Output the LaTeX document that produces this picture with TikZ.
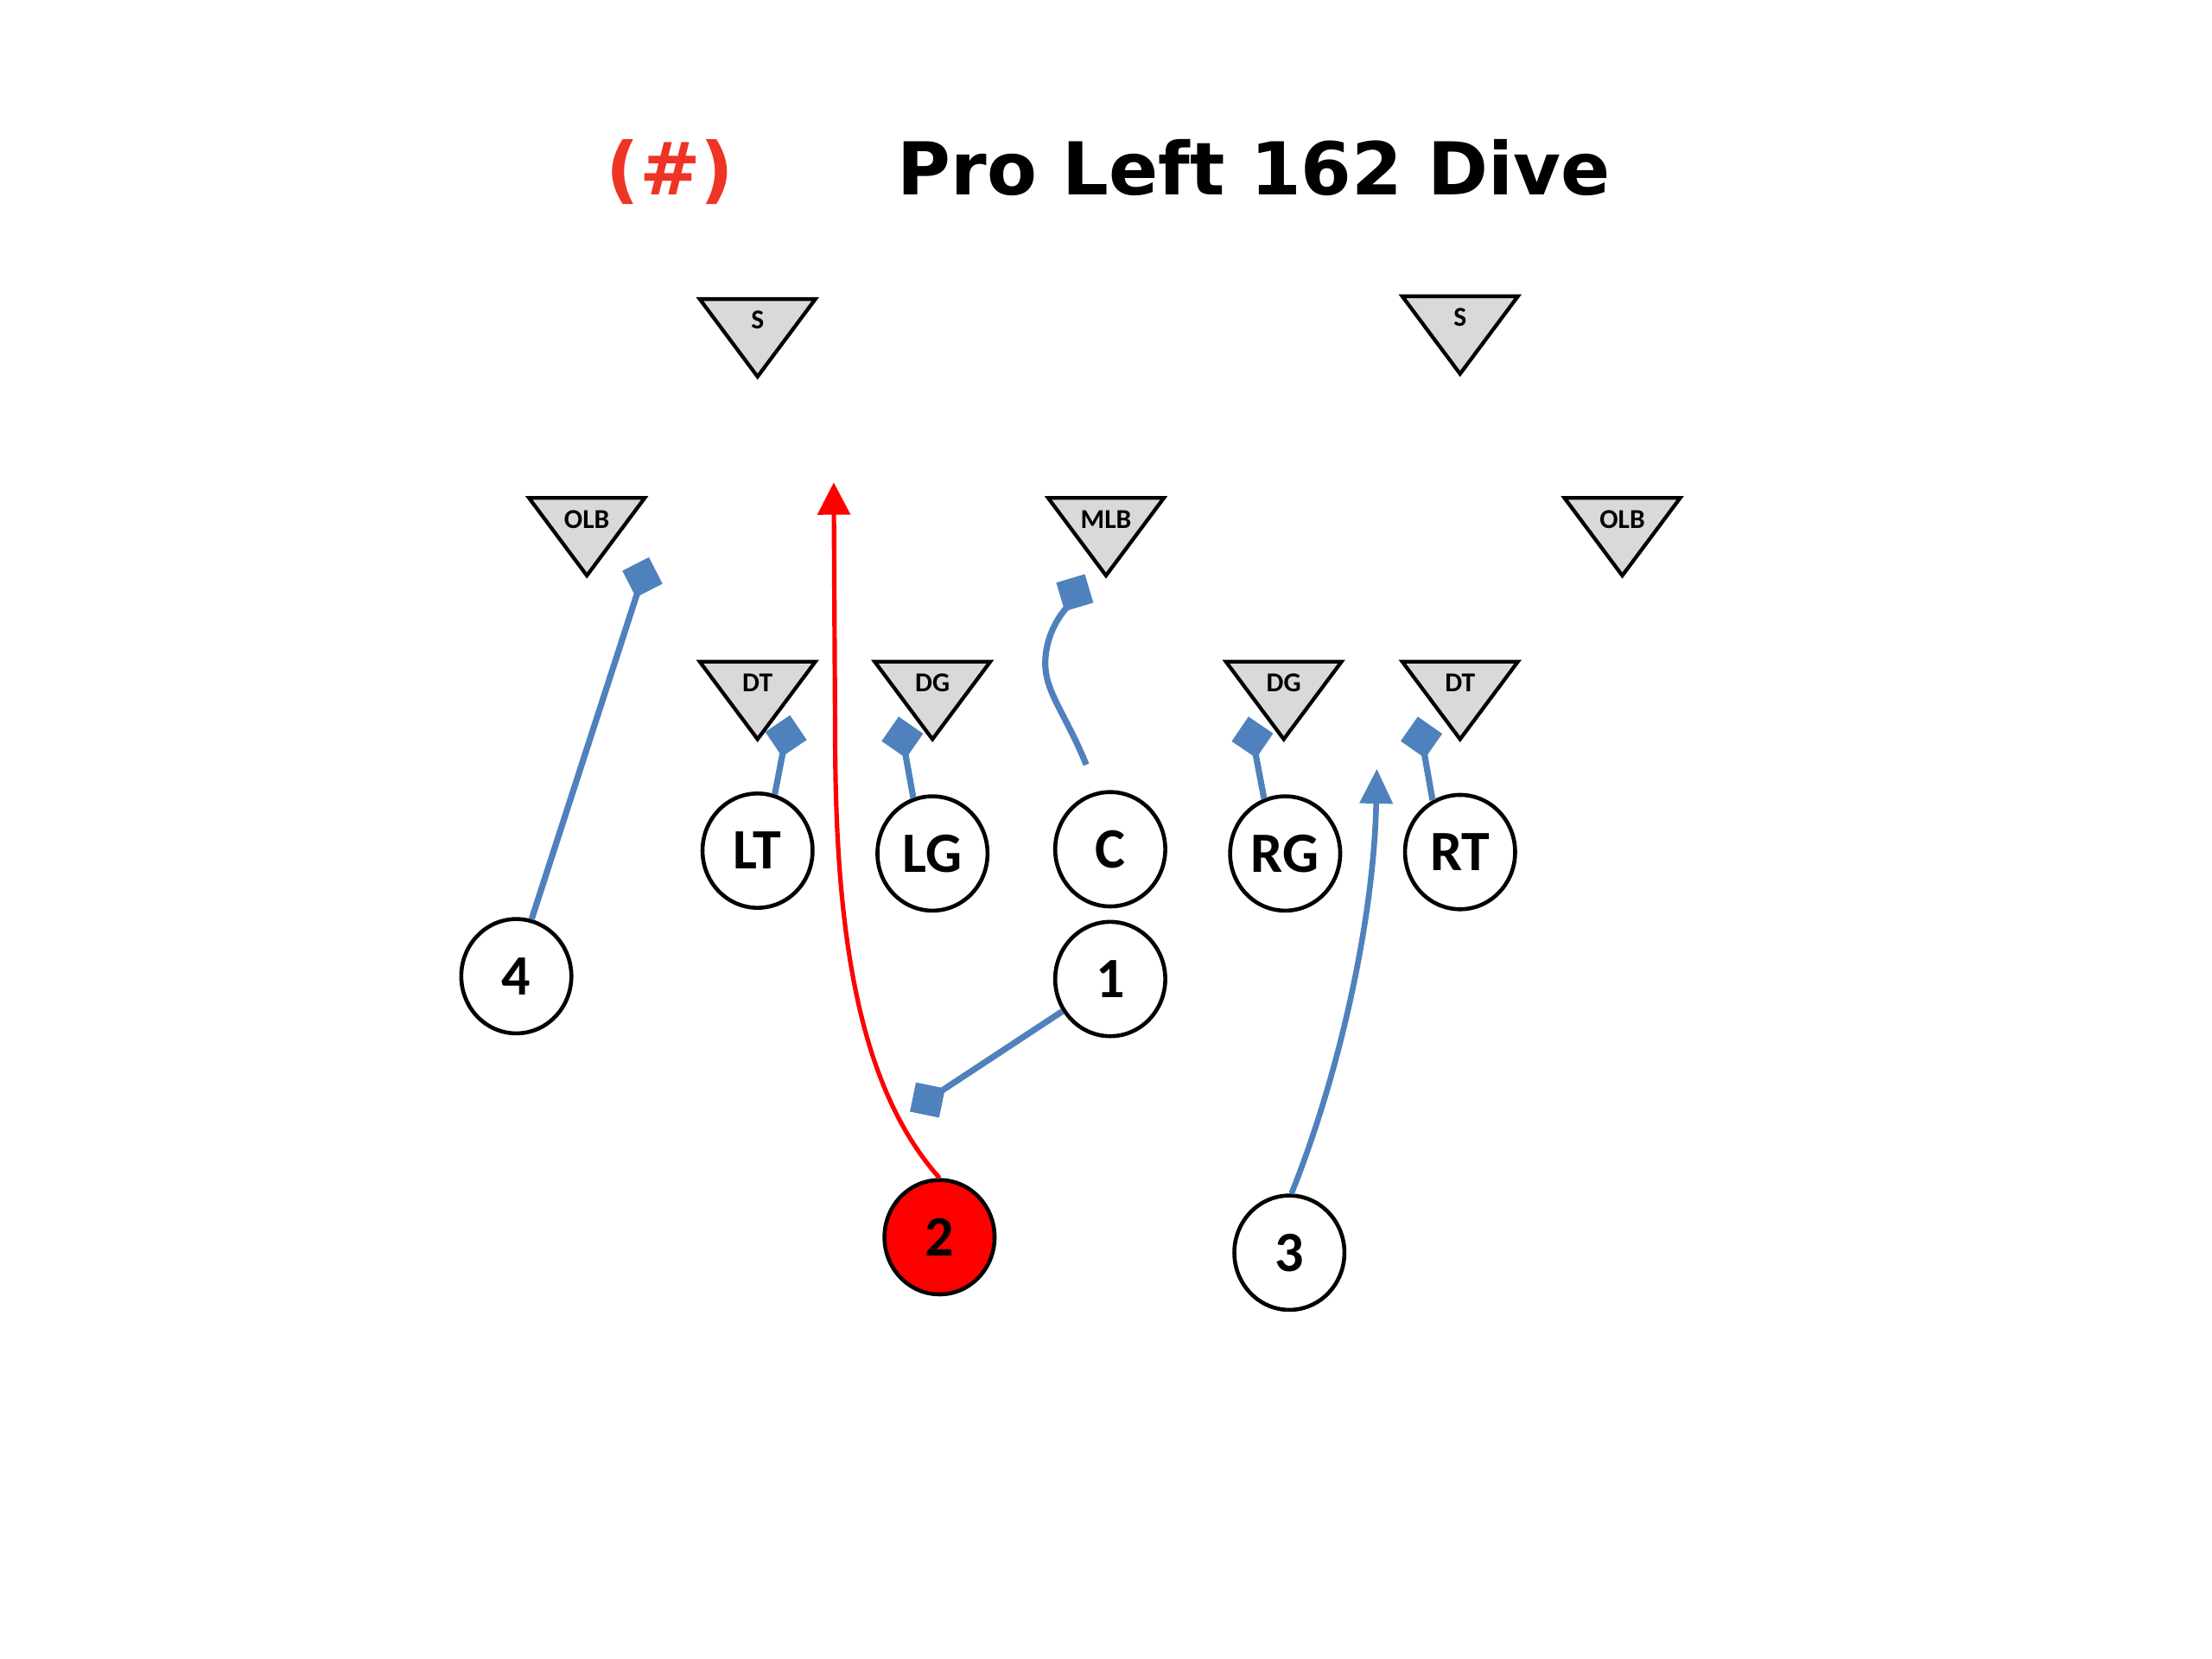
\documentclass[tikz,border=0pt]{standalone}
\usepackage{fontspec}
\setmainfont{Carlito}
\newfontfamily\titlefont{DejaVu Sans}
\usetikzlibrary{arrows.meta,shapes.geometric}
\definecolor{blockblue}{RGB}{79,129,189}
\definecolor{defgray}{RGB}{217,217,217}
\definecolor{hashred}{RGB}{238,52,36}
\tikzset{
  player/.style={draw, ellipse, line width=0.8pt, fill=white, inner sep=0pt,
                 minimum width=0.78cm, minimum height=0.81cm,
                 font=\fontsize{11.5}{12}\selectfont\bfseries},
  deflabel/.style={inner sep=0pt, font=\fontsize{5.5}{6}\selectfont\bfseries},
  defshape/.style={draw, line width=0.75pt, fill=defgray, line join=miter},
  headline/.style={anchor=base, font=\titlefont\bfseries\fontsize{14.7}{16}\selectfont},
  block/.style={-{Diamond[length=8.5pt,width=8.5pt]}, blockblue, line width=1.25pt},
  route/.style={-{Triangle[length=7pt,width=6.5pt]}, blockblue, line width=1.15pt},
  carry/.style={-{Triangle[length=6.5pt,width=6.5pt]}, red, line width=0.9pt}
}

\begin{document}
\begin{tikzpicture}[x=0.01cm, y=-0.01cm]
  \useasboundingbox (0,0) rectangle (1568,1176);

  % title
  \node[headline, text=hashred] (playno) at (475,138) {(\#)};
  \node[headline] (playname) at (889,138) {Pro Left 162 Dive};

  % defense
  \foreach \nm/\x/\y/\lab in {sl/537/212/S, sr/1035/210/S,
      olbl/416/353/OLB, mlb/784/353/MLB, olbr/1150/353/OLB,
      dtl/537/469/DT, dgl/661/469/DG, dgr/910/469/DG, dtr/1035/469/DT}{
    \draw[defshape] (\x-41,\y) -- (\x+41,\y) -- (\x,\y+55) -- cycle;
    \node[deflabel] (\nm) at (\x,\y+15) {\lab};
  }

  % offense
  \node[player] (lt) at (537,603) {LT};
  \node[player] (lg) at (661,605) {LG};
  \node[player] (c)  at (787,602) {C};
  \node[player] (rg) at (911,605) {RG};
  \node[player] (rt) at (1035,604) {RT};
  \node[player] (p4) at (366,692) {4};
  \node[player] (p1) at (787,694) {1};
  \node[player, fill=red] (p2) at (666,877) {2};
  \node[player] (p3) at (914,888) {3};

  % block points and holes
  \coordinate (hitolb) at (460,395);
  \coordinate (hitdtl) at (560,507);
  \coordinate (hitdgl) at (637,508);
  \coordinate (hitmlb) at (769,407);
  \coordinate (hitdgr) at (885,508);
  \coordinate (hitdtr) at (1005,508);
  \coordinate (hitlb)  at (645,788);
  \coordinate (holea)  at (591,342);
  \coordinate (holeb)  at (976,545);

  % blocks
  \draw[block] (p4.75) -- (hitolb);
  \draw[block] (lt.73) -- (hitdtl);
  \draw[block] (lg.109) -- (hitdgl);
  \draw[block] ([shift={(-17,-18)}]c.north) .. controls (755,505) and (740,490) .. (741,468)
    .. controls (742,445) and (756,431) .. (hitmlb);
  \draw[block] (rg.111) -- (hitdgr);
  \draw[block] (rt.118) -- (hitdtr);
  \draw[block] (p1.214) -- (hitlb);

  % routes
  \draw[carry] (p2.north) .. controls (608,770) and (592,660) .. (592,520) -- (holea);
  \draw[route] (p3.88) .. controls (950,760) and (974,650) .. (holeb);
\end{tikzpicture}
\end{document}
